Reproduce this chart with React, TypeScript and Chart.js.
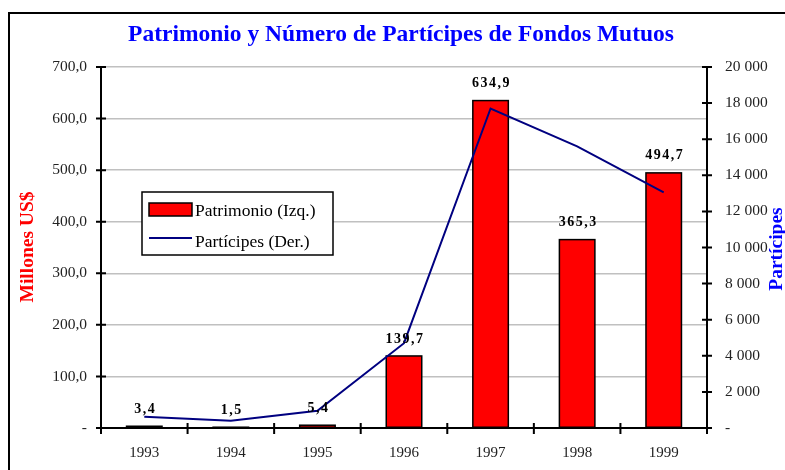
import React, { useEffect, useRef } from "react";
import { Chart, registerables } from "chart.js";

Chart.register(...registerables);

const categories = ["1993", "1994", "1995", "1996", "1997", "1998", "1999"];
const patrimonio = [3.4, 1.5, 5.4, 139.7, 634.9, 365.3, 494.7];
const participes = [630, 400, 960, 4700, 17700, 15600, 13050];
const patrimonioLabels = ["3,4", "1,5", "5,4", "139,7", "634,9", "365,3", "494,7"];

const TITLE = "Patrimonio y Número de Partícipes de Fondos Mutuos";
const SERIF = "'Liberation Serif', 'Times New Roman', serif";

const fmtLeft = (v: number) => (v === 0 ? "-" : v.toFixed(1).replace(".", ","));
const fmtRight = (v: number) =>
  v === 0 ? "-" : String(Math.round(v)).replace(/\B(?=(\d{3})+(?!\d))/g, " ");

const decorPlugin = {
  id: "decor",
  beforeDraw(chart: any) {
    const ctx = chart.ctx;
    ctx.save();
    ctx.fillStyle = "#fff";
    ctx.fillRect(0, 0, chart.width, chart.height);
    ctx.restore();
  },
  afterDatasetDraw(chart: any, args: any) {
    if (args.index !== 1) return;
    const ctx = chart.ctx;
    const meta = chart.getDatasetMeta(1);
    ctx.save();
    ctx.strokeStyle = "#000";
    ctx.lineWidth = 1.5;
    meta.data.forEach((bar: any) => {
      const w = bar.width;
      ctx.strokeRect(bar.x - w / 2, bar.y, w, bar.base - bar.y);
    });
    ctx.restore();
  },
  afterDraw(chart: any) {
    const ctx = chart.ctx;
    const area = chart.chartArea;
    const y = chart.scales.y;
    const y1 = chart.scales.y1;
    ctx.save();

    // outer frame
    ctx.strokeStyle = "#000";
    ctx.lineWidth = 2;
    ctx.beginPath();
    ctx.moveTo(9, chart.height + 5);
    ctx.lineTo(9, 13);
    ctx.lineTo(chart.width + 5, 13);
    ctx.stroke();

    // title
    ctx.fillStyle = "#0000ff";
    ctx.font = `bold 23.5px ${SERIF}`;
    ctx.textAlign = "center";
    ctx.textBaseline = "middle";
    ctx.fillText(TITLE, 401, 35);

    // axis titles
    ctx.font = `bold 19.5px ${SERIF}`;
    ctx.fillStyle = "#ff0000";
    ctx.save();
    ctx.translate(28, 247);
    ctx.rotate(-Math.PI / 2);
    ctx.fillText("Millones US$", 0, 0);
    ctx.restore();
    ctx.fillStyle = "#0000ff";
    ctx.save();
    ctx.translate(777, 249);
    ctx.rotate(-Math.PI / 2);
    ctx.fillText("Partícipes", 0, 0);
    ctx.restore();

    // tick marks crossing axes
    ctx.strokeStyle = "#000";
    ctx.lineWidth = 2;
    ctx.beginPath();
    y.ticks.forEach((t: any) => {
      const py = y.getPixelForValue(t.value);
      ctx.moveTo(area.left - 5, py);
      ctx.lineTo(area.left + 5, py);
    });
    y1.ticks.forEach((t: any) => {
      const py = y1.getPixelForValue(t.value);
      ctx.moveTo(area.right - 5, py);
      ctx.lineTo(area.right + 5, py);
    });
    const n = categories.length;
    for (let i = 0; i <= n; i++) {
      const px = area.left + ((area.right - area.left) * i) / n;
      ctx.moveTo(px, area.bottom - 5);
      ctx.lineTo(px, area.bottom + 6);
    }
    ctx.stroke();

    // data labels
    const meta = chart.getDatasetMeta(1);
    ctx.fillStyle = "#000";
    ctx.font = `bold 14px ${SERIF}`;
    (ctx as any).letterSpacing = "1.5px";
    ctx.textAlign = "center";
    ctx.textBaseline = "middle";
    meta.data.forEach((bar: any, i: number) => {
      ctx.fillText(patrimonioLabels[i], bar.x + 1, bar.y - 17);
    });
    (ctx as any).letterSpacing = "0px";

    // legend
    const lx = 142, ly = 192, lw = 191, lh = 63;
    ctx.fillStyle = "#fff";
    ctx.fillRect(lx, ly, lw, lh);
    ctx.strokeStyle = "#000";
    ctx.lineWidth = 1.5;
    ctx.strokeRect(lx, ly, lw, lh);
    ctx.fillStyle = "#ff0000";
    ctx.fillRect(149, 203, 43, 13);
    ctx.lineWidth = 1.5;
    ctx.strokeRect(149, 203, 43, 13);
    ctx.strokeStyle = "#000080";
    ctx.lineWidth = 2;
    ctx.beginPath();
    ctx.moveTo(149, 238);
    ctx.lineTo(192, 238);
    ctx.stroke();
    ctx.fillStyle = "#000";
    ctx.font = `17.5px ${SERIF}`;
    ctx.textAlign = "left";
    ctx.textBaseline = "middle";
    ctx.fillText("Patrimonio (Izq.)", 195, 211);
    ctx.fillText("Partícipes (Der.)", 195, 242);

    ctx.restore();
  },
};

export default function App() {
  const ref = useRef<HTMLCanvasElement | null>(null);
  useEffect(() => {
    if (!ref.current) return;
    const chart = new Chart(ref.current, {
      type: "bar",
      data: {
        labels: categories,
        datasets: [
          {
            type: "line",
            label: "Partícipes (Der.)",
            data: participes,
            yAxisID: "y1",
            borderColor: "#000080",
            borderWidth: 2,
            pointRadius: 0,
            tension: 0,
            fill: false,
            order: 0,
          } as any,
          {
            type: "bar",
            label: "Patrimonio (Izq.)",
            data: patrimonio,
            yAxisID: "y",
            backgroundColor: "#ff0000",
            borderWidth: 0,
            categoryPercentage: 1,
            barPercentage: 0.41,
            order: 1,
          },
        ],
      },
      options: {
        animation: false,
        responsive: false,
        maintainAspectRatio: false,
        layout: { padding: { top: 67, left: 0, right: 0, bottom: 0 } },
        plugins: {
          legend: { display: false },
          title: { display: false },
          tooltip: { enabled: false },
        },
        scales: {
          x: {
            grid: { display: false, drawTicks: false },
            border: { color: "#000", width: 2 },
            ticks: {
              color: "#222",
              font: { family: SERIF, size: 15 },
              padding: 16,
              maxRotation: 0,
            },
            afterFit: (s: any) => {
              s.height = 42;
            },
          },
          y: {
            position: "left",
            min: 0,
            max: 700,
            ticks: {
              stepSize: 100,
              color: "#222",
              font: { family: SERIF, size: 15.5 },
              padding: 14,
              callback: (v: any) => fmtLeft(Number(v)),
            },
            grid: { color: "#c0c0c0", lineWidth: 1.5, drawTicks: false },
            border: { color: "#000", width: 2 },
            afterFit: (s: any) => {
              s.width = 101;
            },
          },
          y1: {
            position: "right",
            min: 0,
            max: 20000,
            ticks: {
              stepSize: 2000,
              color: "#222",
              font: { family: SERIF, size: 15.5 },
              padding: 18,
              callback: (v: any) => fmtRight(Number(v)),
            },
            grid: { drawOnChartArea: false, drawTicks: false },
            border: { color: "#000", width: 2 },
            afterFit: (s: any) => {
              s.width = 78;
            },
          },
        },
      },
      plugins: [decorPlugin],
    } as any);
    return () => chart.destroy();
  }, []);
  return (
    <div style={{ position: "fixed", left: 0, top: 0, width: 785, height: 470 }}>
      <canvas ref={ref} width={785} height={470} style={{ display: "block" }} />
    </div>
  );
}
